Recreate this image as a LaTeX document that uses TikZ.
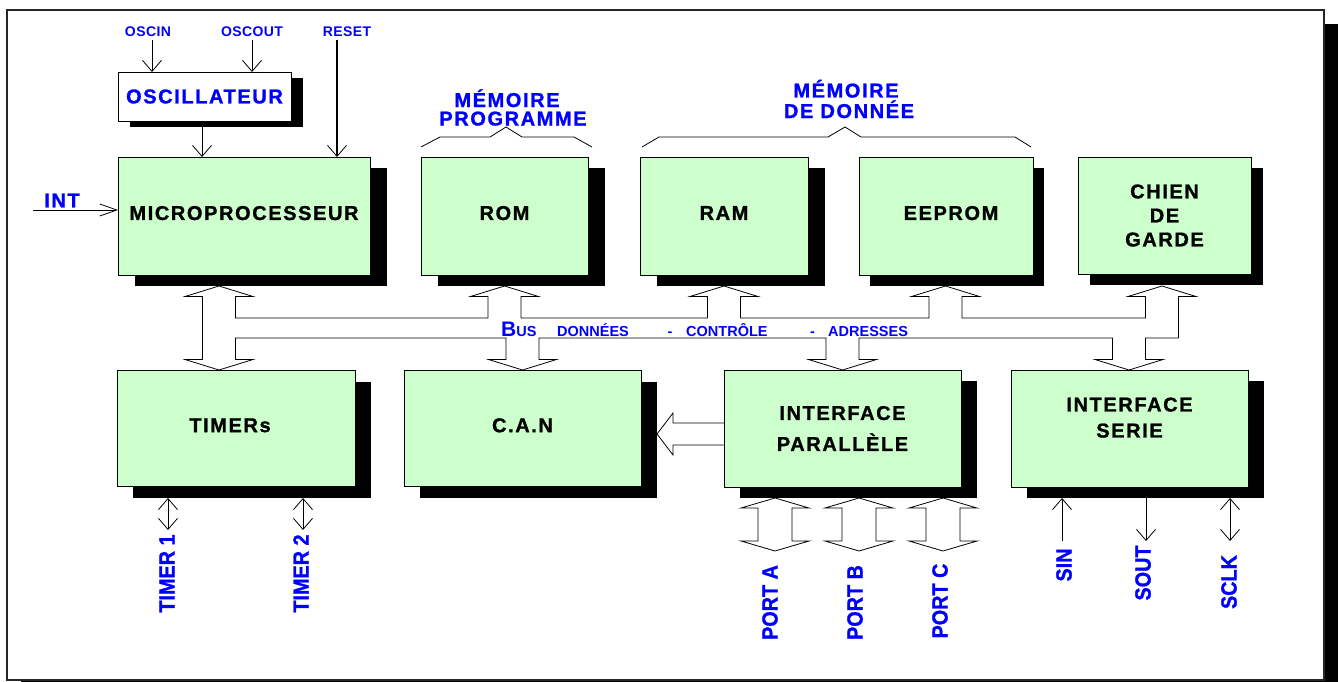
\documentclass[tikz,border=0pt]{standalone}
\usepackage{fontspec}
\usepackage{graphicx}
\setmainfont{Liberation Sans}
\newfontfamily\bigf{Liberation Sans}[LetterSpace=8, BoldFeatures={FakeBold=1.2}]
\newfontfamily\smf{Liberation Sans}[LetterSpace=3]
\newfontfamily\vf{Liberation Sans}[BoldFeatures={FakeBold=1.2}]
\usetikzlibrary{arrows.meta,shadows}
\definecolor{boxgreen}{RGB}{204,255,204}
\definecolor{lblue}{RGB}{0,0,255}
\newcommand\dblarrowV[1]{\draw[line width=0.8pt] ({#1-17},508) -- ({#1-34},508) -- (#1,498) -- ({#1+34},508) -- ({#1+17},508) -- ({#1+17},541) -- ({#1+34},541) -- (#1,551) -- ({#1-34},541) -- ({#1-17},541) -- cycle;}
\tikzset{
  box/.style={draw, line width=0.8pt, fill=boxgreen, inner sep=0pt, outer sep=0pt, align=center,
    font=\bigf\bfseries\fontsize{20}{25}\selectfont},
  shad/.style 2 args={drop shadow={shadow xshift=#1pt, shadow yshift=-#2pt, fill=black, opacity=1}},
  up/.style={text depth=6pt},
  lbl/.style={text=lblue, inner sep=0pt, font=\bigf\bfseries\fontsize{20}{20}\selectfont},
  sml/.style={text=lblue, inner sep=0pt, font=\smf\bfseries\fontsize{14}{14}\selectfont},
  bustxt/.style={text=lblue, inner sep=0pt, font=\bfseries\fontsize{14.5}{14.5}\selectfont},
  vlbl/.style={text=lblue, inner sep=0pt, rotate=90, font=\vf\bfseries\fontsize{22}{22}\selectfont},
  barb/.style={-{Straight Barb[length=11pt,width=19pt,line width=0.8pt]}, line width=0.8pt},
  dbarb/.style={{Straight Barb[length=11pt,width=19pt]}-{Straight Barb[length=11pt,width=19pt]}, line width=0.8pt},
  intarr/.style={-{Straight Barb[length=17pt,width=12pt]}, line width=0.8pt},
  wire/.style={line width=0.8pt}
}
\begin{document}
\begin{tikzpicture}[x=1pt,y=-1pt]
\useasboundingbox (0,0) rectangle (1340,682);
% outer frame with shadow
\fill[black] (1324.5,24) rectangle (1338,695);
\fill[black] (21,680.5) rectangle (1338,695);
\draw[line width=2pt, black!85] (7,10) rectangle (1323.5,679.5);

% top row
\node[box, fill=white, text=lblue, minimum width=173pt, minimum height=49pt, shad={12}{6}] (osc) at (204.5,96.5) {OSCILLATEUR};
\node[box, up, minimum width=252pt, minimum height=118pt, shad={17}{11}] (mp) at (244,216) {MICROPROCESSEUR};
\node[box, up, minimum width=167pt, minimum height=118pt, shad={17}{11}] (rom) at (504.5,216) {ROM};
\node[box, up, minimum width=168pt, minimum height=118pt, shad={17}{11}] (ram) at (724,216) {RAM};
\node[box, up, minimum width=174pt, minimum height=118pt, shad={11}{11}] (eeprom) at (946,216) {\hspace*{10pt}EEPROM};
\node[box, font=\bigf\bfseries\fontsize{20}{24}\selectfont, minimum width=173pt, minimum height=117pt, shad={12}{11}] (chien) at (1164.5,215.5) {CHIEN\\DE\\GARDE};

% bottom row
\node[box, up, minimum width=238pt, minimum height=116.5pt, shad={16}{11.5}] (timers) at (236,428.25) {TIMERs\hspace*{12pt}};
\node[box, up, minimum width=237pt, minimum height=116.5pt, shad={16}{11.5}] (can) at (522.5,428.25) {C.A.N};
\node[box, minimum width=237pt, minimum height=117pt, shad={16}{11}] (par) at (842.5,428.5) {INTERFACE\\[6pt]PARALLÈLE};
\node[box, font=\bigf\bfseries\fontsize{20}{26}\selectfont, minimum width=237pt, minimum height=117pt, shad={16}{11}] (serie) at (1129.5,428.5) {INTERFACE\\SERIE\\[-4pt]};

% top labels and arrows
\node[sml] (oscin) at (148,32) {OSCIN};
\node[sml] (oscout) at (252,32) {OSCOUT};
\node[sml] (reset) at (347,32) {RESET};
\coordinate (oscinS) at (152,40);
\coordinate (oscoutS) at (252,40);
\coordinate (resetS) at (337,40);
\coordinate (oscB) at (202,127);
\draw[barb] (oscinS) -- (oscinS |- osc.north);
\draw[barb] (oscoutS) -- (oscoutS |- osc.north);
\draw[barb, line width=1.8pt] (resetS) -- (resetS |- mp.north);
\draw[barb] (oscB) -- (oscB |- mp.north);

\node[lbl] (int) at (62,200.5) {INT};
\coordinate (intS) at (33,210);
\draw[intarr] (intS) -- (intS -| mp.west);

% memory headings and braces
\node[lbl, anchor=base] (mp1) at (507,107) {MÉMOIRE};
\node[lbl, anchor=base] (mp2) at (513,125.5) {PROGRAMME};
\node[lbl, anchor=base] (md1) at (846,97.5) {MÉMOIRE};
\node[lbl, anchor=base] (md2) at (849,118) {DE DONNÉE};
\draw[wire] (421,147) -- (440,137) -- (490,137) -- (506,127) -- (522,137) -- (574,137) -- (592,147);
\draw[wire] (642,147) -- (659,137) -- (828,137) -- (845,127) -- (861,137) -- (1015,137) -- (1031,147);

% bus
\draw[wire, line join=miter]
 (202.5,296.5) -- (185,296.5) -- (219,286) -- (253,296.5) -- (235.5,296.5) -- (235.5,318)
 -- (488,318) -- (488,296.5) -- (470.5,296.5) -- (504.5,286) -- (538.5,296.5) -- (521,296.5) -- (521,318)
 -- (707.5,318) -- (707.5,296.5) -- (690,296.5) -- (724,286) -- (758,296.5) -- (740.5,296.5) -- (740.5,318)
 -- (929,318) -- (929,296.5) -- (911.5,296.5) -- (945.5,286) -- (979.5,296.5) -- (962,296.5) -- (962,318)
 -- (1145.5,318) -- (1145.5,296.5) -- (1128,296.5) -- (1162,286) -- (1196,296.5) -- (1178.5,296.5) -- (1178.5,338)
 -- (1145.5,338) -- (1145.5,359.5) -- (1163,359.5) -- (1129,370) -- (1095,359.5) -- (1112.5,359.5) -- (1112.5,338)
 -- (859,338) -- (859,359.5) -- (876.5,359.5) -- (842.5,370) -- (808.5,359.5) -- (826,359.5) -- (826,338)
 -- (539,338) -- (539,359.5) -- (556.5,359.5) -- (522.5,370) -- (488.5,359.5) -- (506,359.5) -- (506,338)
 -- (235.5,338) -- (235.5,359.5) -- (253,359.5) -- (219,370) -- (185,359.5) -- (202.5,359.5) -- cycle;
\node[bustxt, anchor=base west] (bus) at (501,336) {{\fontsize{21}{21}\selectfont B}US};
\node[bustxt, anchor=base west] (don) at (557,336) {DONNÉES};
\node[bustxt, anchor=base] (dash1) at (670,336) {-};
\node[bustxt, anchor=base west] (ctl) at (686,336) {CONTRÔLE};
\node[bustxt, anchor=base] (dash2) at (812.5,336) {-};
\node[bustxt, anchor=base west] (adr) at (828,336) {ADRESSES};

% parallel -> CAN arrow
\draw[wire, line join=miter] (par.west |- 0,423) -- (673,423) -- (673,413) -- (657,434) -- (673,455) -- (673,445) -- (par.west |- 0,445);

% ports
\dblarrowV{775}
\dblarrowV{859}
\dblarrowV{943}
\node[vlbl] (pa) at (770,602.5) {\scalebox{0.9}[1]{PORT A}};
\node[vlbl] (pb) at (855,602.5) {\scalebox{0.9}[1]{PORT B}};
\node[vlbl] (pc) at (940,601) {\scalebox{0.9}[1]{PORT C}};

% timer pins
\coordinate (t1a) at (168,498); \coordinate (t1b) at (168,530);
\coordinate (t2a) at (303,498); \coordinate (t2b) at (303,530);
\draw[dbarb] (t1a) -- (t1b);
\draw[dbarb] (t2a) -- (t2b);
\node[vlbl] (tm1) at (167,573.5) {\scalebox{0.9}[1]{TIMER 1}};
\node[vlbl] (tm2) at (301,573.5) {\scalebox{0.9}[1]{TIMER 2}};

% serial pins
\coordinate (sinT) at (1062,498); \coordinate (sinB) at (1062,541);
\coordinate (soutT) at (1146,498); \coordinate (soutB) at (1146,541);
\coordinate (sclkT) at (1230,498); \coordinate (sclkB) at (1230,541);
\draw[barb] (sinB) -- (sinT);
\draw[barb] (soutT) -- (soutB);
\draw[dbarb] (sclkT) -- (sclkB);
\node[vlbl] (sin) at (1064,565) {\scalebox{0.9}[1]{SIN}};
\node[vlbl] (sout) at (1143,573) {\scalebox{0.9}[1]{SOUT}};
\node[vlbl] (sclk) at (1229,582) {\scalebox{0.9}[1]{SCLK}};
\end{tikzpicture}
\end{document}
